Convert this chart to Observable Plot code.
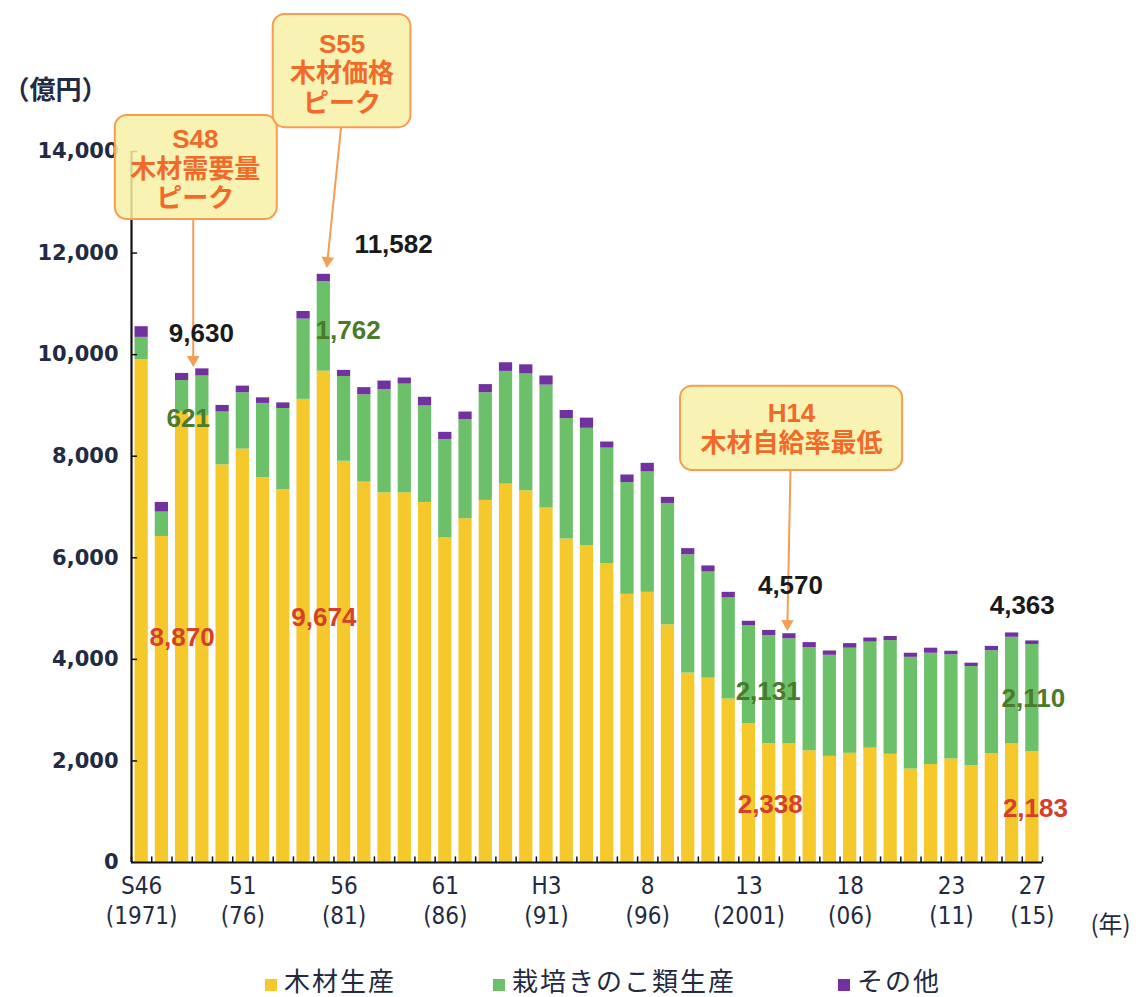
<!DOCTYPE html>
<html>
<head>
<meta charset="utf-8">
<script src="https://cdn.jsdelivr.net/npm/d3@7"></script>
<script src="https://cdn.jsdelivr.net/npm/@observablehq/plot@0.6"></script>
<style>
  body { margin: 0; background: #fff; }
  #chart { width: 1142px; height: 957px; }
  g[aria-label="value labels"] text { letter-spacing: 1.5px; }
  g[aria-label="y tick labels"] text { letter-spacing: 1.5px; }
  g[aria-label="callout text"] text { letter-spacing: 1.5px; }
  g[aria-label="unit label y"] text { letter-spacing: 4px; }
  g[aria-label="unit label x"] text { letter-spacing: 2px; }
  .legend { position: relative; width: 1142px; height: 40px; font-family: "Noto Sans CJK JP", sans-serif; font-size: 26px; color: #232a40; }
  .legend .sw { position: absolute; width: 12px; height: 12px; top: 22px; }
  .legend .lb { position: absolute; top: 9px; line-height: 28px; letter-spacing: 2px; }
</style>
</head>
<body>
<div id="chart"></div>
<script>
// 林業産出額の推移（億円）, 1971–2015
const years = [1971, 1972, 1973, 1974, 1975, 1976, 1977, 1978, 1979, 1980,
  1981, 1982, 1983, 1984, 1985, 1986, 1987, 1988, 1989, 1990,
  1991, 1992, 1993, 1994, 1995, 1996, 1997, 1998, 1999, 2000,
  2001, 2002, 2003, 2004, 2005, 2006, 2007, 2008, 2009, 2010,
  2011, 2012, 2013, 2014, 2015];

// 木材生産
const timber = [9900, 6420, 8870, 8790, 7830, 8140, 7580, 7340, 9120, 9674,
  7900, 7490, 7280, 7280, 7090, 6390, 6770, 7130, 7450, 7320,
  6980, 6370, 6240, 5880, 5280, 5320, 4680, 3730, 3630, 3220,
  2730, 2338, 2335, 2200, 2090, 2150, 2250, 2130, 1840, 1930,
  2040, 1910, 2140, 2335, 2183];

// 栽培きのこ類生産
const mushroom = [440, 480, 621, 790, 1040, 1110, 1460, 1600, 1580, 1762,
  1670, 1720, 2030, 2140, 1900, 1940, 1950, 2120, 2220, 2300,
  2420, 2370, 2310, 2280, 2200, 2370, 2390, 2330, 2090, 1990,
  1930, 2131, 2070, 2030, 1990, 2070, 2090, 2240, 2200, 2190,
  2050, 1950, 2030, 2100, 2110];

// その他
const other = [210, 190, 139, 140, 130, 130, 110, 110, 150, 146,
  120, 140, 170, 120, 170, 140, 150, 160, 170, 180,
  180, 160, 200, 120, 150, 170, 120, 120, 120, 110,
  90, 101, 100, 100, 85, 90, 80, 80, 80, 100,
  70, 65, 85, 85, 70];

const seriesNames = ["木材生産", "栽培きのこ類生産", "その他"];
const seriesColors = ["#f5c82c", "#6cc06a", "#7132a0"];

const yTicks = [0, 2000, 4000, 6000, 8000, 10000, 12000, 14000];

// 和暦 / 西暦 tick labels
const xTickYears = [1971, 1976, 1981, 1986, 1991, 1996, 2001, 2006, 2011, 2015];
const xTickEra = ["S46", "51", "56", "61", "H3", "8", "13", "18", "23", "27"];
const xTickAD = ["(1971)", "(76)", "(81)", "(86)", "(91)", "(96)", "(2001)", "(06)", "(11)", "(15)"];

// long table for stacking: bottom to top
const table = years.flatMap((year, i) => [
  {year, series: seriesNames[0], value: timber[i]},
  {year, series: seriesNames[1], value: mushroom[i]},
  {year, series: seriesNames[2], value: other[i]}
]);

const idx = (y) => years.indexOf(y);
const total = (y) => timber[idx(y)] + mushroom[idx(y)] + other[idx(y)];
const fmt = d3.format(",");

// value labels: text comes from the data, placement is in chart units
const valueLabels = [
  {text: fmt(total(1973)), x: 1974.45, y: 10420, fill: "#1a1a1a"},
  {text: fmt(mushroom[idx(1973)]), x: 1973.8, y: 8740, fill: "#4b7a2b"},
  {text: fmt(timber[idx(1973)]), x: 1973.5, y: 4430, fill: "#d5402a"},
  {text: fmt(total(1980)), x: 1983.95, y: 12170, fill: "#1a1a1a"},
  {text: fmt(mushroom[idx(1980)]), x: 1981.7, y: 10470, fill: "#4b7a2b"},
  {text: fmt(timber[idx(1980)]), x: 1980.5, y: 4820, fill: "#d5402a"},
  {text: fmt(total(2002)), x: 2003.55, y: 5450, fill: "#1a1a1a"},
  {text: fmt(mushroom[idx(2002)]), x: 2002.45, y: 3370, fill: "#4b7a2b"},
  {text: fmt(timber[idx(2002)]), x: 2002.55, y: 1140, fill: "#d5402a"},
  {text: fmt(total(2015)), x: 2015.0, y: 5060, fill: "#1a1a1a"},
  {text: fmt(mushroom[idx(2015)]), x: 2015.55, y: 3230, fill: "#4b7a2b"},
  {text: fmt(timber[idx(2015)]), x: 2015.65, y: 1060, fill: "#d5402a"}
];

// callout boxes with their pointer lines
const callouts = [
  {text: "S48\n木材需要量\nピーク", x1: 1970.2, x2: 1978.2, y1: 12660, y2: 14710, tx: 1974.15, ty: 13670,
   ax1: 1974.05, ay1: 12660, ax2: 1974.05, ay2: 9900, rot: 180},
  {text: "S55\n木材価格\nピーク", x1: 1978.0, x2: 1984.8, y1: 14470, y2: 16700, tx: 1981.4, ty: 15550,
   ax1: 1981.35, ay1: 14470, ax2: 1980.68, ay2: 11850, rot: 186},
  {text: "H14\n木材自給率最低", x1: 1998.12, x2: 2009.09, y1: 7720, y2: 9380, tx: 2003.6, ty: 8560,
   ax1: 2003.55, ay1: 7720, ax2: 2003.4, ay2: 4700, rot: 181}
];

const latin = "'Liberation Sans', Arial, 'Noto Sans CJK JP', sans-serif";
const cjk = "'Liberation Sans', 'Noto Sans CJK JP', sans-serif";
const narrow = "'Liberation Sans Narrow', 'Arial Narrow', 'DejaVu Sans Condensed', sans-serif";
const wide = "'DejaVu Sans', 'Liberation Sans', sans-serif";
const orange = "#f59d52";
const ink = "#232a44";

const chart = Plot.plot({
  width: 1142,
  height: 957,
  marginLeft: 131,
  marginRight: 100,
  marginTop: 151,
  marginBottom: 95,
  style: {background: "#fff", overflow: "visible", fontFamily: latin},
  x: {domain: [1971, 2016], axis: null},
  y: {domain: [0, 14000], axis: null},
  color: {domain: seriesNames, range: seriesColors},
  marks: [
    // stacked bars
    Plot.rectY(table, {x: "year", interval: 1, y: "value", fill: "series", insetLeft: 3.5, insetRight: 3.5}),
    // axis lines and ticks
    Plot.ruleY([0], {stroke: "#111", strokeWidth: 2.2}),
    Plot.ruleX([1971], {y1: 0, y2: 14000, stroke: "#111", strokeWidth: 2.2}),
    Plot.ruleY(yTicks.slice(1), {x1: 1971, x2: 1971.3, y: d => d, stroke: "#111", strokeWidth: 1.5}),
    Plot.ruleX(years.concat([2016]), {x: d => d, y1: 0, y2: 110, stroke: "#111", strokeWidth: 1.5}),
    // y tick labels
    Plot.text(yTicks, {x: 1971, y: d => d, text: d => fmt(d), textAnchor: "end", dx: -13,
      fontSize: 21, fontWeight: "bold", fontFamily: wide, fill: ink, ariaLabel: "y tick labels"}),
    // x tick labels, two rows
    Plot.text(xTickYears, {x: d => d + 0.5, y: 0, text: (d, i) => xTickEra[i], dy: 24,
      fontSize: 24, fontFamily: narrow, fill: ink}),
    Plot.text(xTickYears, {x: d => d + 0.5, y: 0, text: (d, i) => xTickAD[i], dy: 54,
      fontSize: 24, fontFamily: narrow, fill: ink}),
    // unit labels
    Plot.text(["（億円）"], {frameAnchor: "top-left", textAnchor: "middle", dx: -76, dy: -71, fontSize: 26,
      fontWeight: "bold", fontFamily: "'Noto Sans CJK JP', sans-serif", fill: ink, ariaLabel: "unit label y"}),
    Plot.text(["(年)"], {frameAnchor: "bottom-right", textAnchor: "middle", dx: 68, dy: 70, fontSize: 24,
      fontFamily: "'Noto Sans CJK JP', sans-serif", fill: ink, ariaLabel: "unit label x"}),
    // callouts
    Plot.link(callouts, {x1: "ax1", y1: "ay1", x2: "ax2", y2: "ay2", stroke: orange, strokeWidth: 2}),
    Plot.dot(callouts, {x: "ax2", y: "ay2", symbol: "triangle2", r: 6, fill: orange, rotate: "rot"}),
    Plot.rect(callouts, {x1: "x1", x2: "x2", y1: "y1", y2: "y2", rx: 12, ry: 12,
      fill: "#f8f1a6", fillOpacity: 0.85, stroke: orange, strokeWidth: 2}),
    Plot.text(callouts, {x: "tx", y: "ty", text: "text", fontSize: 26, fontWeight: "bold",
      lineHeight: 1.14, fill: "#f06a2a", fontFamily: cjk, ariaLabel: "callout text"}),
    // value labels
    Plot.text(valueLabels, {x: "x", y: "y", text: "text", fill: "fill", fontSize: 26,
      fontWeight: "bold", ariaLabel: "value labels"})
  ]
});

document.getElementById("chart").append(chart);

// legend below the chart
const legend = d3.select("body").append("div").attr("class", "legend");
const legendX = [265, 493, 838];
seriesNames.forEach((name, i) => {
  legend.append("div").attr("class", "sw")
    .style("left", legendX[i] + "px").style("background", seriesColors[i]);
  legend.append("div").attr("class", "lb")
    .style("left", (legendX[i] + 19) + "px").text(name);
});
</script>
</body>
</html>
